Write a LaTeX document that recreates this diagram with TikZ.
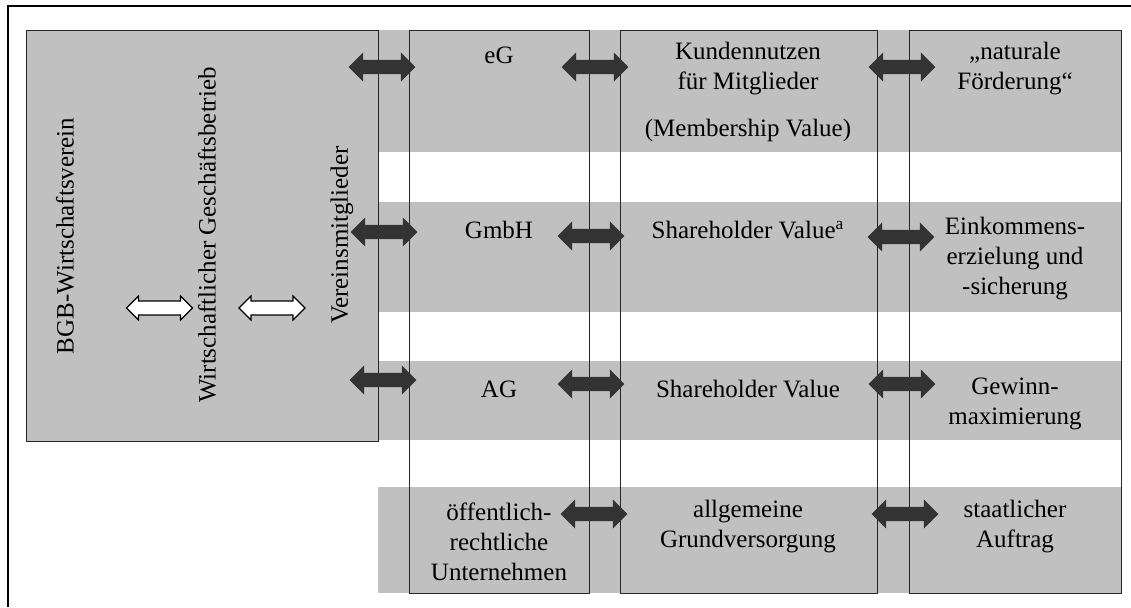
\documentclass[tikz,border=0pt]{standalone}
\usepackage{fontspec}
\setmainfont{Liberation Serif}
\usetikzlibrary{shapes.arrows}
\definecolor{bandgray}{HTML}{C0C0C0}
\definecolor{arrowgray}{HTML}{333333}
\definecolor{linegray}{HTML}{262626}

\begin{document}
\begin{tikzpicture}[x=0.5pt, y=-0.5pt,
    band/.style={fill=bandgray, draw=none},
    colbox/.style={draw=linegray, line width=0.5pt},
    lbl/.style={align=center, inner sep=0pt, font=\fontsize{12.5}{15}\selectfont},
    fatarrow/.style={double arrow, fill=arrowgray, draw=arrowgray, line width=0.3pt,
        inner xsep=0pt, inner ysep=3.25pt, minimum height=33pt, minimum width=13.5pt,
        double arrow head extend=3.5pt},
    hollowarrow/.style={double arrow, fill=white, draw=black, line width=0.6pt,
        inner xsep=0pt, inner ysep=3.2pt, minimum height=33pt, minimum width=12pt,
        double arrow head extend=2.5pt}]
    \useasboundingbox (0,0) rectangle (1131,607);
    \draw[line width=1pt] (8,607) -- (8,6) -- (1131,6);

    % grey rows
    \foreach \ya/\yb in {30/152, 202/312, 361/440, 487/593}
        \fill[band] (378,\ya) rectangle (1121,\yb);

    % association box and the three columns
    \draw[colbox, fill=bandgray] (26,30) rectangle (378,441);
    \foreach \xa/\xb in {409/589, 620/877, 909/1121}
        \draw[colbox] (\xa,30) rectangle (\xb,593);

    \node[hollowarrow] (h1) at (159.5,308) {};
    \node[hollowarrow] (h2) at (272,308) {};

    \node[lbl, rotate=90] (bgb) at (65,236) {BGB-Wirtschaftsverein};
    \node[lbl, rotate=90] (wgb) at (207,235) {Wirtschaftlicher Geschäftsbetrieb};
    \node[lbl, rotate=90] (vm) at (342,235) {Vereinsmitglieder};

    \node[lbl] (eg) at (499,55) {eG};
    \node[lbl] (kn) at (748,92) {Kundennutzen\\für Mitglieder\\[8.5pt](Membership Value)};
    \node[lbl] (nf) at (1015,68.5) {„naturale\\Förderung“};

    \node[lbl] (gmbh) at (499,230) {GmbH};
    \node[lbl] (sv1) at (748,230) {Shareholder Value\textsuperscript{a}};
    \node[lbl] (ek) at (1015,259) {Einkommens-\\erzielung und\\-sicherung};

    \node[lbl] (ag) at (499,389) {AG};
    \node[lbl] (sv2) at (748,389) {Shareholder Value};
    \node[lbl] (gm) at (1015,403.5) {Gewinn-\\maximierung};

    \node[lbl] (oe) at (499,542) {öffentlich-\\rechtliche\\Unternehmen};
    \node[lbl] (gv) at (748,527) {allgemeine\\Grundversorgung};
    \node[lbl] (sa) at (1015,527) {staatlicher\\Auftrag};

    \node[fatarrow] (a11) at (382,67) {};
    \node[fatarrow] (a12) at (595,67) {};
    \node[fatarrow] (a13) at (902,67) {};
    \node[fatarrow] (a21) at (384,232) {};
    \node[fatarrow] (a22) at (591,236) {};
    \node[fatarrow] (a23) at (901,237) {};
    \node[fatarrow] (a31) at (383,380) {};
    \node[fatarrow] (a32) at (591,384) {};
    \node[fatarrow] (a33) at (902,384) {};
    \node[fatarrow] (a42) at (594,514) {};
    \node[fatarrow] (a43) at (905,514) {};
\end{tikzpicture}
\end{document}
